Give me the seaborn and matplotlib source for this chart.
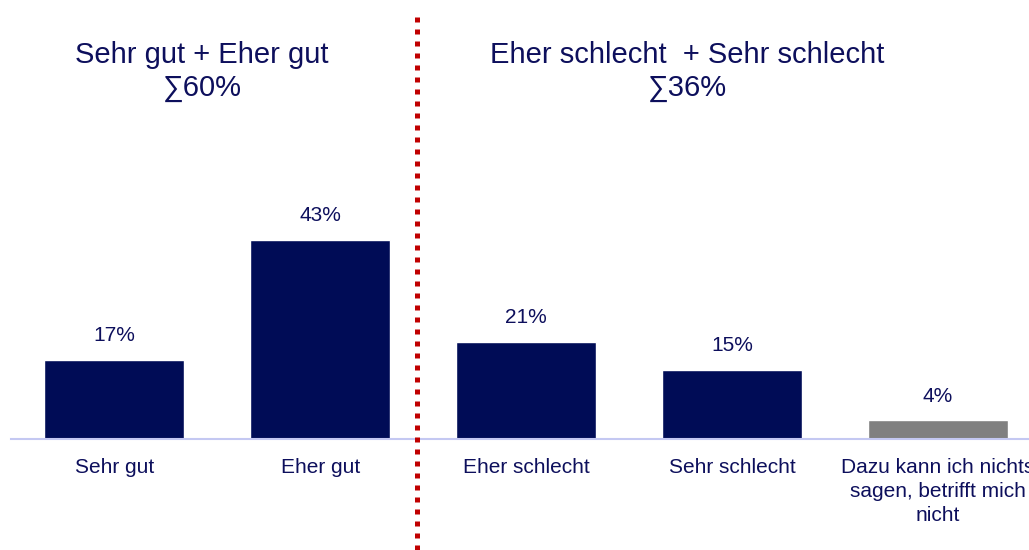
import matplotlib
matplotlib.use("Agg")
import matplotlib.pyplot as plt
import seaborn as sns
import pandas as pd

categories = ["Sehr gut", "Eher gut", "Eher schlecht", "Sehr schlecht",
              "Dazu kann ich nichts\nsagen, betrifft mich\nnicht"]
values = [17, 43, 21, 15, 4]
value_labels = ["17%", "43%", "21%", "15%", "4%"]
bar_colors = ["#000C56", "#000C56", "#000C56", "#000C56", "#808080"]
header_left = "Sehr gut + Eher gut\n∑60%"
header_right = "Eher schlecht  + Sehr schlecht\n∑36%"

sns.set_theme(style="white")
plt.rcParams["font.family"] = ["Liberation Sans", "DejaVu Sans"]
text_color = "#0D0F5C"

df = pd.DataFrame({"cat": categories, "val": values})

fig = plt.figure(figsize=(10.29, 5.5), dpi=100)
W, H = 1029, 550
base_y = 439
ax = fig.add_axes([11 / W, (H - base_y) / H, 1018 / W, base_y / H])

sns.barplot(data=df, x="cat", y="val", hue="cat", palette=bar_colors,
            width=0.68, legend=False, ax=ax, saturation=1)

ax.set_xlim(-0.5025, 4.4417)
ax.set_ylim(0, base_y / 4.63)

for s in ["top", "right", "left"]:
    ax.spines[s].set_visible(False)
ax.spines["bottom"].set_color("#C4C8F2")
ax.spines["bottom"].set_linewidth(1.5)
ax.set_yticks([])
ax.set_xlabel("")
ax.set_ylabel("")
ax.tick_params(axis="x", length=0, pad=13.5, labelsize=15, labelcolor=text_color)
for lbl in ax.get_xticklabels():
    lbl.set_linespacing(1.35)

for i, (v, t) in enumerate(zip(values, value_labels)):
    ax.annotate(t, (i, v), xytext=(0, 17.5), textcoords="offset points",
                ha="center", va="center", fontsize=15, color=text_color)

# headers in figure pixel coords
fig.text(202 / W, 1 - 71.5 / H, header_left, ha="center", va="center",
         fontsize=21, color=text_color, linespacing=1.22)
fig.text(687 / W, 1 - 71.5 / H, header_right, ha="center", va="center",
         fontsize=21, color=text_color, linespacing=1.22)

# dotted separator
xsep = (417 - 11) / 206 - 0.5025
ax.axvline(xsep, ymin=-(H - base_y) / base_y, ymax=(base_y - 12) / base_y,
           color="#C00000", linewidth=3.6, linestyle=(0, (1, 1.4)),
           clip_on=False, zorder=5)

fig.savefig("out.png", dpi=100)
